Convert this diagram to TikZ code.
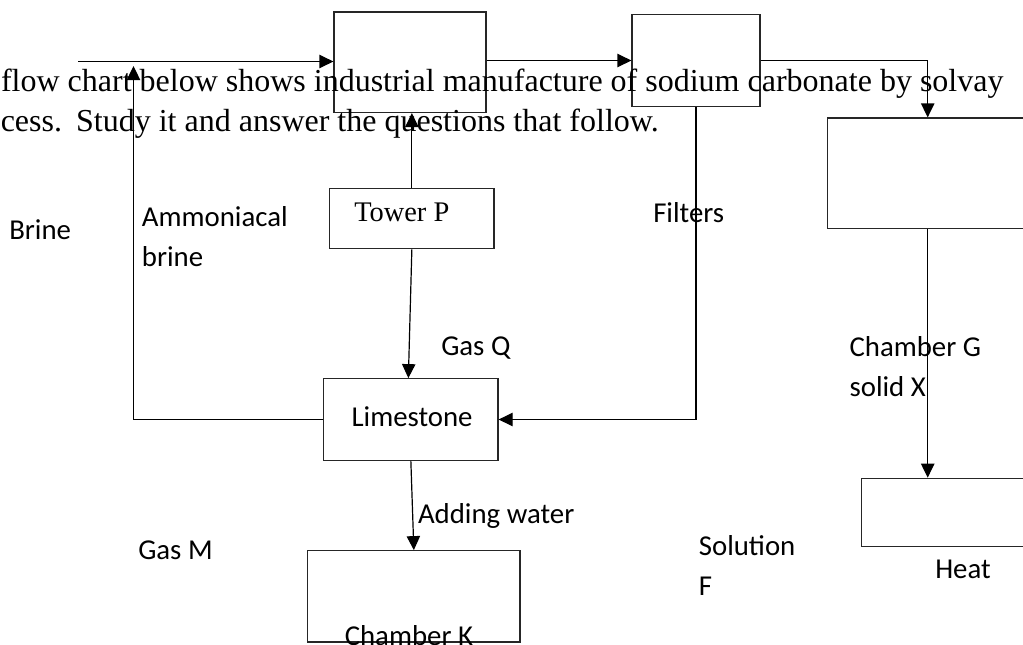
\documentclass[tikz,border=0pt]{standalone}
\usepackage{fontspec}
\setmainfont{Liberation Serif}
\newfontfamily\labelfont{Carlito}
\usetikzlibrary{arrows.meta,fit,calc}
\begin{document}
\begin{tikzpicture}[x=0.75pt,y=-0.75pt,
  box/.style={draw=black!85, line width=0.9pt, inner sep=0pt},
  arr/.style={draw=black, line width=0.9pt, -{Triangle[length=10.5pt,width=10pt]}},
  lbl/.style={font=\labelfont\fontsize{21.6pt}{26pt}\selectfont, inner sep=0pt, anchor=base west},
  ser/.style={font=\fontsize{24pt}{29pt}\selectfont, inner sep=0pt, anchor=base west}]
\clip (0,0) rectangle (1023,644);
\path[use as bounding box] (0,0) rectangle (1023,644);

% boxes
\node[box, fit={(334,12) (486,112.5)}] (b1) {};
\node[box, fit={(632,14.5) (760,106.5)}] (b2) {};
\node[box, fit={(827.7,118) (1040,228.5)}] (b3) {};
\node[box, fit={(329.7,188.7) (494,248.7)}] (tower) {};
\node[box, fit={(323.7,378.7) (498,460.3)}] (lime) {};
\node[box, fit={(307.7,550.7) (520,642)}] (chk) {};
\node[box, fit={(861.6,478.3) (1040,546.7)}] (heat) {};

% heading text
\node[ser] (t1) at (0.8,91) {flow chart below shows industrial manufacture of sodium carbonate by solvay};
\node[ser] (t2) at (0.5,131) {cess.\hspace{0.44em}Study it and answer the questions that follow.};

% labels
\node[font=\fontsize{21.3pt}{25pt}\selectfont, inner sep=0pt, anchor=base west] (tp) at (354,221.7) {Tower P};
\node[lbl] (brine) at (9,239.5) {Brine};
\node[lbl] (amm) at (141.7,226.7) {Ammoniacal};
\node[lbl] (amm2) at (141.7,266) {brine};
\node[lbl] (filt) at (653,222.7) {Filters};
\node[lbl] (gasq) at (441,355) {Gas Q};
\node[lbl] (chg) at (849.3,356) {Chamber G};
\node[lbl] (solx) at (849.3,396.7) {solid X};
\node[lbl] (limet) at (351.3,426) {Limestone};
\node[lbl] (addw) at (417.8,523.3) {Adding water};
\node[lbl] (gasm) at (138,559.3) {Gas M};
\node[lbl] (sol) at (698.6,555.7) {Solution};
\node[lbl] (solf) at (698.6,595.7) {F};
\node[lbl] (heatt) at (935,578.3) {Heat};
\node[lbl, anchor=base] (chkt) at (408.9,645.5) {Chamber K};

% connectors
\coordinate (in) at (78,61.5);
\draw[arr] (in) -- (in -| b1.west);
\coordinate (amtop) at (133.5,66);
\draw[arr] (lime.west) -| (amtop);
\draw[arr] (tower.north) -- (tower.north |- b1.south);
\draw[arr] (tower.south) -- ($(lime.north)+(-2.5,0)$);
\draw[arr] (lime.south) -- (chk.north);
\draw[arr] (b1.east |- b2.west) -- (b2.west);
\coordinate (gx) at (927.7,0);
\draw[arr] (b2.east) -| (b3.north -| gx);
\draw[arr] (b2.south) |- (lime.east);
\draw[arr] (b3.south -| gx) -- (heat.north -| gx);
\end{tikzpicture}
\end{document}
